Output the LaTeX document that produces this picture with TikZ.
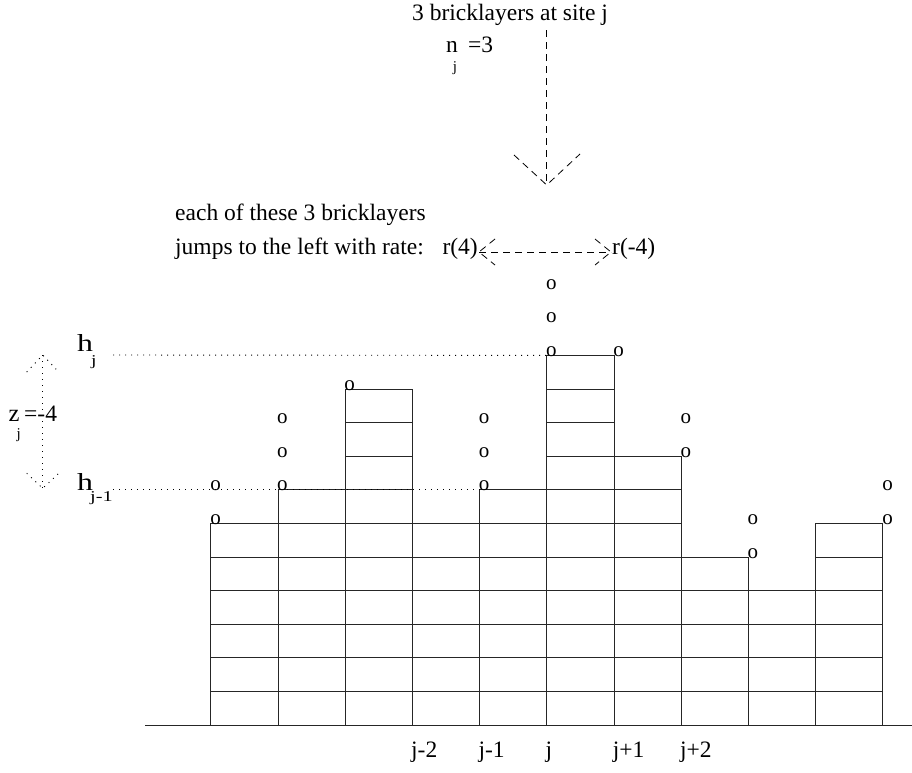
\documentclass[tikz,border=0pt]{standalone}
\usepackage{fontspec}
\setmainfont{Liberation Serif}
\begin{document}
\begin{tikzpicture}[x=1pt,y=-1pt,
  txt/.style={font=\fontsize{23.5}{28}\selectfont, inner sep=0pt, anchor=base west},
  sub/.style={font=\fontsize{15}{18}\selectfont, inner sep=0pt, anchor=base west},
  big/.style={font=\fontsize{24.5}{29}\selectfont, inner sep=0pt, anchor=base west},
  ochar/.style={font=\fontsize{21}{25}\selectfont, inner sep=0pt, anchor=base west},
  brick/.style={draw=black!85, line width=0.8pt},
  dashline/.style={dash pattern=on 7pt off 5pt, line width=0.8pt},
  dotline/.style={dash pattern=on 1pt off 5pt, line width=0.9pt},
]
\useasboundingbox (0,0) rectangle (912,772);

% ground
\coordinate (g0) at (145,725);
\coordinate (g1) at (912,725);
\draw[brick] (g0) -- (g1);

% bricks
\foreach \h [count=\i from 0] in {6,7,10,6,7,11,8,5,4,6} {
  \foreach \r in {1,...,\h} {
    \draw[brick] ({210.8+67.2*\i},{725-33.6*(\r-1)}) rectangle ++(67.2,-33.6);
  }
}

% bricklayers (o)
\foreach \x/\r/\n [count=\c] in {210.8/6/2, 277.6/7/3, 344.8/10/1, 479.3/7/3, 546.5/11/3, 613.7/11/1, 680.9/8/2, 748.1/5/2, 882.8/6/2} {
  \foreach \k in {1,...,\n} {
    \node[ochar] (o\c-\k) at ({\x-0.6},{725-33.6*(\r+\k-1)+1}) {o};
  }
}

% site labels
\foreach \t/\x [count=\c] in {j-2/412, j-1/479.3, j/546.5, j+1/613.7, j+2/680.9} {
  \node[txt] (lab\c) at ({\x-1},757) {\t};
}

% top text and vertical arrow
\node[txt] (top) at (412,20.7) {3 bricklayers at site j};
\node[txt] (n) at (446,52.7) {n};
\node[txt] (eq3) at (468,52.7) {=3};
\node[sub] (nj) at (452.7,71.8) {j};
\coordinate (vtop) at (546.7,30);
\coordinate (vtip) at (546.7,185);
\coordinate (vl) at (514,155);
\coordinate (vr) at (580,154);
\draw[dashline] (vtop) -- (vtip);
\draw[dashline] (vl) -- (vtip) -- (vr);

% rate text and horizontal double arrow
\node[txt] (each) at (175,220) {each of these 3 bricklayers};
\node[txt] (jumps) at (175,254) {jumps to the left with rate:};
\node[txt, anchor=base east] (r4) at (478,254) {r(4)};
\node[txt] (rm4) at (612,254) {r(-4)};
\coordinate (al) at (479,252);
\coordinate (ar) at (611,252);
\draw[dashline] (al) -- (ar);
\draw[dashline] (al) ++(16,-13) -- (al) -- ++(16,13);
\draw[dashline] (ar) ++(-16,-13) -- (ar) -- ++(-16,13);

% heights
\node[big] (hj) at (77,351.7) {\scalebox{1.3}[1]{h}};
\node[sub] (hjs) at (91,365) {\scalebox{1.3}[1]{j}};
\node[big] (hj1) at (77,490) {\scalebox{1.3}[1]{h}};
\node[sub] (hj1s) at (90,501) {\scalebox{1.35}[1]{j-1}};
\coordinate (hjl) at (113,355);
\coordinate (c6top) at (546.5,355.4);
\coordinate (hj1l) at (113,489.2);
\coordinate (c5top) at (479.3,489.2);
\draw[dotline] (hjl) -- (c6top);
\draw[dotline] (hj1l) -- (c5top);

% z_j
\node[big] (z) at (8.5,421.7) {z};
\node[txt] (zeq) at (24,421.7) {=-4};
\node[sub] (zj) at (16.5,438) {j};
\coordinate (zt) at (42.7,355);
\coordinate (zb) at (42.7,488.3);
\draw[dotline] (zt) -- (zb);
\draw[dotline] (zt) ++(-16,17) -- (zt) -- ++(16,17);
\draw[dotline] (zb) ++(-16,-15) -- (zb) -- ++(16,-15);
\end{tikzpicture}
\end{document}
